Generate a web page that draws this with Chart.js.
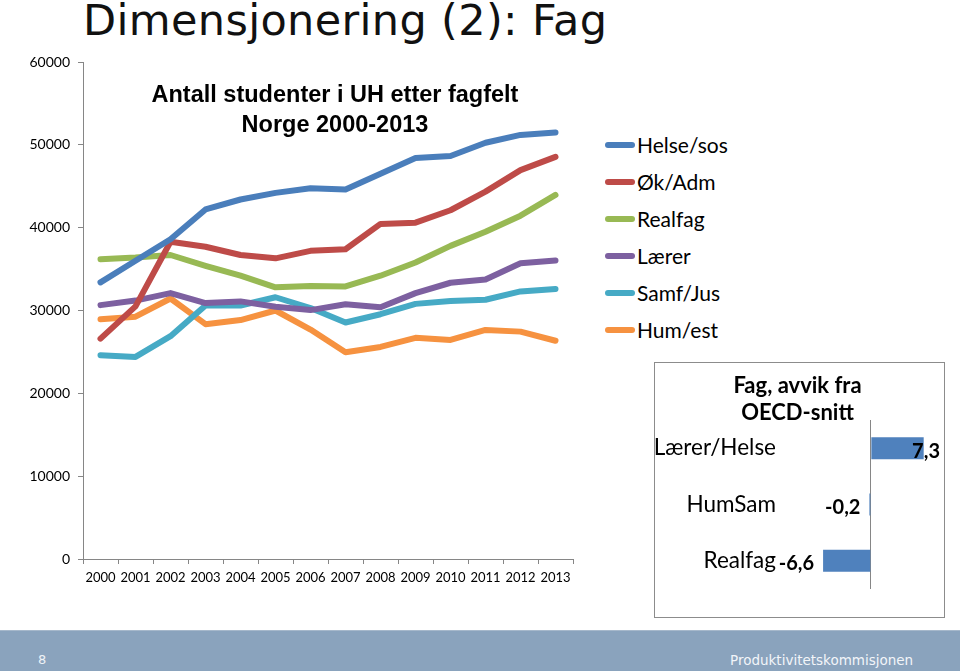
<!DOCTYPE html>
<html>
<head>
<meta charset="utf-8">
<script src="https://cdn.jsdelivr.net/npm/chart.js@4.4.1/dist/chart.umd.min.js"></script>
<style>
  html, body { margin: 0; padding: 0; background: #fff; }
  body { width: 960px; height: 671px; position: relative; overflow: hidden; }
  .abs { position: absolute; }
  #slideTitle { left: 83px; top: -1px; font-family: "DejaVu Sans", sans-serif; font-size: 43px; line-height: 43px; letter-spacing: 0.35px; color: #111; white-space: nowrap; }
  #chartTitle { left: 135px; width: 400px; top: 80px; text-align: center; font-family: "Liberation Sans", Arial, sans-serif; font-weight: bold; font-size: 23.5px; line-height: 29.5px; color: #000; white-space: nowrap; }
  #mainWrap { left: 0; top: 40px; width: 600px; height: 570px; }
  #legend { left: 605px; top: 126px; font-family: Lato, sans-serif; font-size: 21px; color: #000; }
  .lg { height: 37px; display: flex; align-items: center; white-space: nowrap; }
  .lg span.sw { display: inline-block; width: 30px; height: 6px; border-radius: 3px; margin-right: 2px; }
  #inset { left: 654px; top: 362px; width: 291px; height: 256px; box-sizing: border-box; border: 1px solid #8c8c8c; }
  #insetTitle { left: 655px; width: 285px; top: 371px; text-align: center; font-family: Lato, sans-serif; font-weight: bold; font-size: 22px; line-height: 27px; color: #000; }
  #footer { left: 0; top: 630px; width: 960px; height: 41px; background: #8aa3bd; border-top: 1px solid #a6b8cb; box-sizing: border-box; }
  #pgnum { left: 38px; top: 652px; font-family: "DejaVu Sans", sans-serif; font-size: 13px; color: #eef2f7; }
  #org { left: 730px; top: 652px; font-family: "DejaVu Sans", sans-serif; font-size: 13.5px; color: #f2f5f9; white-space: nowrap; }
</style>
</head>
<body>
<div id="slideTitle" class="abs">Dimensjonering (2): Fag</div>
<div id="mainWrap" class="abs"><canvas id="main" width="600" height="570"></canvas></div>
<div id="chartTitle" class="abs">Antall studenter i UH etter fagfelt<br>Norge 2000-2013</div>
<div id="legend" class="abs"></div>
<div id="inset" class="abs"><canvas id="bars" width="289" height="254"></canvas></div>
<div id="insetTitle" class="abs">Fag, avvik fra<br>OECD-snitt</div>
<div id="footer" class="abs"></div>
<div id="pgnum" class="abs">8</div>
<div id="org" class="abs">Produktivitetskommisjonen</div>
<script>
// ---- Data ----
const years = ["2000","2001","2002","2003","2004","2005","2006","2007","2008","2009","2010","2011","2012","2013"];
const seriesNames = ["Helse/sos", "Øk/Adm", "Realfag", "Lærer", "Samf/Jus", "Hum/est"];
const helseSos = [33400, 36000, 38600, 42200, 43400, 44200, 44750, 44600, 46500, 48400, 48650, 50250, 51200, 51500];
const okAdm    = [26600, 30500, 38300, 37700, 36700, 36300, 37200, 37400, 40450, 40600, 42100, 44350, 46950, 48550];
const realfag  = [36200, 36400, 36700, 35400, 34200, 32800, 32950, 32900, 34200, 35800, 37800, 39500, 41450, 43950];
const laerer   = [30650, 31200, 32100, 30900, 31100, 30450, 30050, 30750, 30400, 32100, 33350, 33750, 35700, 36050];
const samfJus  = [24600, 24400, 26900, 30600, 30600, 31600, 30300, 28550, 29550, 30800, 31150, 31300, 32300, 32600];
const humEst   = [28950, 29250, 31450, 28350, 28850, 30000, 27700, 24950, 25600, 26700, 26450, 27650, 27450, 26350];
const yTicks = [0, 10000, 20000, 30000, 40000, 50000, 60000];

const oecdCategories = ["Lærer/Helse", "HumSam", "Realfag"];
const oecdDeviation = [7.3, -0.2, -6.6];

// ---- Styles ----
const colors = ["#4a7ebb", "#be4b48", "#98b954", "#7d60a0", "#46aac5", "#f69240"];
const allSeries = [helseSos, okAdm, realfag, laerer, samfJus, humEst];
const axisColor = "#868686";

// Legend (HTML, built from the series names/colors)
const lg = document.getElementById("legend");
seriesNames.forEach((n, i) => {
  const row = document.createElement("div");
  row.className = "lg";
  const sw = document.createElement("span");
  sw.className = "sw";
  sw.style.background = colors[i];
  row.appendChild(sw);
  row.appendChild(document.createTextNode(n));
  lg.appendChild(row);
});

// ---- Main line chart ----
new Chart(document.getElementById("main"), {
  type: "line",
  data: {
    labels: years,
    datasets: allSeries.map((d, i) => ({
      label: seriesNames[i],
      data: d,
      borderColor: colors[i],
      backgroundColor: colors[i],
      borderWidth: 6,
      pointRadius: 0,
      tension: 0,
      borderJoinStyle: "round",
      borderCapStyle: "round",
      fill: false
    }))
  },
  options: {
    responsive: false,
    animation: false,
    layout: { padding: { top: 22, right: 27, left: 0, bottom: 0 } },
    plugins: { legend: { display: false }, title: { display: false }, tooltip: { enabled: false } },
    scales: {
      x: {
        type: "category",
        offset: true,
        grid: { display: true, drawOnChartArea: false, drawTicks: true, tickLength: 5, offset: true, color: axisColor },
        border: { display: true, color: axisColor, width: 1 },
        ticks: { color: "#000", font: { family: "Lato", size: 13 }, autoSkip: false, maxRotation: 0, minRotation: 0, padding: 6 },
        afterFit: (s) => { s.height = 51; }
      },
      y: {
        min: 0, max: 60000,
        afterBuildTicks: (s) => { s.ticks = yTicks.map(v => ({ value: v })); },
        grid: { display: true, drawOnChartArea: false, drawTicks: true, tickLength: 5, color: axisColor },
        border: { display: true, color: axisColor, width: 1 },
        ticks: { color: "#000", font: { family: "Lato", size: 14 }, padding: 8, callback: (v) => String(v) },
        afterFit: (s) => { s.width = 83; }
      }
    }
  }
});

// ---- Inset horizontal bar chart ----
const barLabels = {
  id: "barLabels",
  afterDatasetsDraw(chart) {
    const ctx = chart.ctx;
    const meta = chart.getDatasetMeta(0);
    ctx.save();
    ctx.font = "bold 20px Lato";
    ctx.fillStyle = "#000";
    ctx.textBaseline = "middle";
    meta.data.forEach((bar, i) => {
      const v = oecdDeviation[i];
      const txt = v.toFixed(1).replace(".", ",");
      const w = ctx.measureText(txt).width;
      if (v >= 0) {
        let left = bar.x + 9;
        if (left + w > chart.width - 4) left = chart.width - 4 - w;
        ctx.textAlign = "left";
        ctx.fillText(txt, left, bar.y + 3);
      } else {
        ctx.textAlign = "right";
        ctx.fillText(txt, bar.x - 9, bar.y + 3);
      }
    });
    ctx.restore();
  }
};

new Chart(document.getElementById("bars"), {
  type: "bar",
  data: {
    labels: oecdCategories,
    datasets: [{
      data: oecdDeviation,
      backgroundColor: "#4f81bd",
      borderWidth: 0,
      categoryPercentage: 1,
      barPercentage: 0.39
    }]
  },
  options: {
    indexAxis: "y",
    responsive: false,
    animation: false,
    layout: { padding: { top: 57, bottom: 28, right: 8, left: 0 } },
    plugins: { legend: { display: false }, title: { display: false }, tooltip: { enabled: false } },
    scales: {
      x: {
        min: -12, max: 9,
        ticks: { display: false, stepSize: 3 },
        grid: {
          display: true, drawTicks: false, drawOnChartArea: true,
          color: (c) => (c.tick && c.tick.value === 0 ? axisColor : "rgba(0,0,0,0)")
        },
        border: { display: false },
        afterFit: (s) => { s.height = 0; }
      },
      y: {
        grid: { display: false, drawTicks: false },
        border: { display: false },
        ticks: { color: "#000", font: { family: "Lato", size: 22.5 }, padding: 8 },
        afterFit: (s) => { s.width = 129; }
      }
    }
  },
  plugins: [barLabels]
});
</script>
</body>
</html>
